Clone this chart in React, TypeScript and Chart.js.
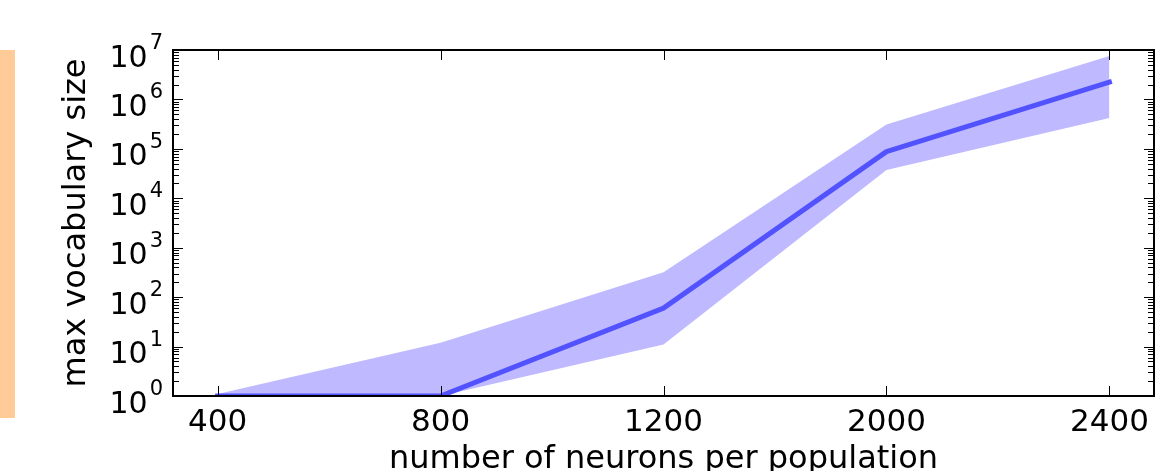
import React, { useEffect, useRef } from "react";
import { Chart, registerables } from "chart.js";

Chart.register(...registerables);

const categories = ["400", "800", "1200", "2000", "2400"];
const meanValues = [1, 1, 60, 88000, 2240000];
const upperValues = [1.1, 12, 320, 310000, 7600000];
const lowerValues = [1, 1, 11, 37500, 420000];
const yExponents = [0, 1, 2, 3, 4, 5, 6, 7];
const xTitle = "number of neurons per population";
const yTitle = "max vocabulary size";

const FONT = "'DejaVu Sans', sans-serif";

export default function App() {
  const ref = useRef<HTMLCanvasElement>(null);

  useEffect(() => {
    const canvas = ref.current;
    if (!canvas) return;
    const toPts = (arr: number[]) => arr.map((v, i) => ({ x: i, y: v }));

    const framePlugin = {
      id: "frame",
      afterDatasetsDraw(chart: any) {
        const { ctx, chartArea: a, scales } = chart;
        const xs = scales.x;
        const ys = scales.y;
        ctx.save();
        ctx.strokeStyle = "#000";
        ctx.lineWidth = 1;
        ctx.beginPath();
        categories.forEach((_, i) => {
          const px = Math.round(xs.getPixelForValue(i)) + 0.5;
          ctx.moveTo(px, a.bottom);
          ctx.lineTo(px, a.bottom - 10);
          ctx.moveTo(px, a.top);
          ctx.lineTo(px, a.top + 10);
        });
        const minE = yExponents[0];
        const maxE = yExponents[yExponents.length - 1];
        for (let e = minE; e <= maxE; e++) {
          for (let m = 1; m <= 9; m++) {
            const v = m * Math.pow(10, e);
            if (v > Math.pow(10, maxE)) break;
            const py = Math.round(ys.getPixelForValue(v)) + 0.5;
            const len = m === 1 ? 10 : 6;
            ctx.moveTo(a.left, py);
            ctx.lineTo(a.left + len, py);
            ctx.moveTo(a.right, py);
            ctx.lineTo(a.right - len, py);
          }
        }
        ctx.stroke();
        ctx.lineWidth = 2;
        ctx.strokeRect(a.left, a.top, a.right - a.left, a.bottom - a.top);

        // y tick labels: 10 with superscript exponent
        ctx.fillStyle = "#000";
        ctx.textAlign = "right";
        ctx.textBaseline = "alphabetic";
        yExponents.forEach((e) => {
          const py = ys.getPixelForValue(Math.pow(10, e));
          const supText = String(e);
          ctx.font = `21px ${FONT}`;
          const rightX = a.left - 10;
          ctx.fillText(supText, rightX, py - 1);
          const w = ctx.measureText(supText).width;
          ctx.font = `30px ${FONT}`;
          ctx.fillText("10", rightX - w - 2, py + 16.5);
        });
        ctx.restore();
      },
    };

    const chart = new Chart(canvas, {
      type: "line",
      data: {
        datasets: [
          {
            label: "mean",
            data: toPts(meanValues),
            borderColor: "#5252ff",
            borderWidth: 5,
            pointRadius: 0,
            fill: false,
            tension: 0,
            borderCapStyle: "square",
            borderJoinStyle: "round",
            clip: 0,
          } as any,
          {
            label: "upper",
            data: toPts(upperValues),
            borderWidth: 0,
            borderColor: "rgba(0,0,0,0)",
            backgroundColor: "#bfbaff",
            pointRadius: 0,
            fill: "+1",
            tension: 0,
            clip: 0,
          } as any,
          {
            label: "lower",
            data: toPts(lowerValues),
            borderWidth: 0,
            borderColor: "rgba(0,0,0,0)",
            pointRadius: 0,
            fill: false,
            tension: 0,
            clip: 0,
          } as any,
        ],
      },
      options: {
        animation: false,
        responsive: false,
        maintainAspectRatio: false,
        layout: { padding: { top: 50, right: 20, left: 0, bottom: 0 } },
        plugins: { legend: { display: false }, tooltip: { enabled: false } },
        scales: {
          x: {
            type: "linear",
            min: -0.2,
            max: 4.2,
            grid: { display: false },
            border: { display: false },
            afterBuildTicks: (scale: any) => {
              scale.ticks = categories.map((_, i) => ({ value: i }));
            },
            ticks: {
              color: "#000",
              font: { family: FONT, size: 31 },
              padding: 0,
              maxRotation: 0,
              autoSkip: false,
              callback: (v: any) => categories[Number(v)] ?? "",
            },
            title: {
              display: true,
              text: xTitle,
              color: "#000",
              font: { family: FONT, size: 32 },
              padding: { top: 0, bottom: -8 },
            },
            afterFit: (scale: any) => {
              scale.height = 75;
            },
          },
          y: {
            type: "logarithmic",
            min: 1,
            max: 1e7,
            grid: { display: false },
            border: { display: false },
            ticks: { display: false },
            title: {
              display: true,
              text: yTitle,
              color: "#000",
              font: { family: FONT, size: 32 },
              padding: { top: 57, bottom: 0 },
            },
            afterFit: (scale: any) => {
              scale.width = 173;
            },
          },
        },
      } as any,
      plugins: [framePlugin],
    });
    return () => chart.destroy();
  }, []);

  return (
    <div style={{ position: "absolute", left: 0, top: 0, width: 1174, height: 471, background: "#fff" }}>
      <div style={{ position: "absolute", left: 0, top: 50, width: 15, height: 368, background: "#ffcc99" }} />
      <canvas ref={ref} width={1174} height={471} style={{ position: "absolute", left: 0, top: 0, width: 1174, height: 471 }} />
    </div>
  );
}
